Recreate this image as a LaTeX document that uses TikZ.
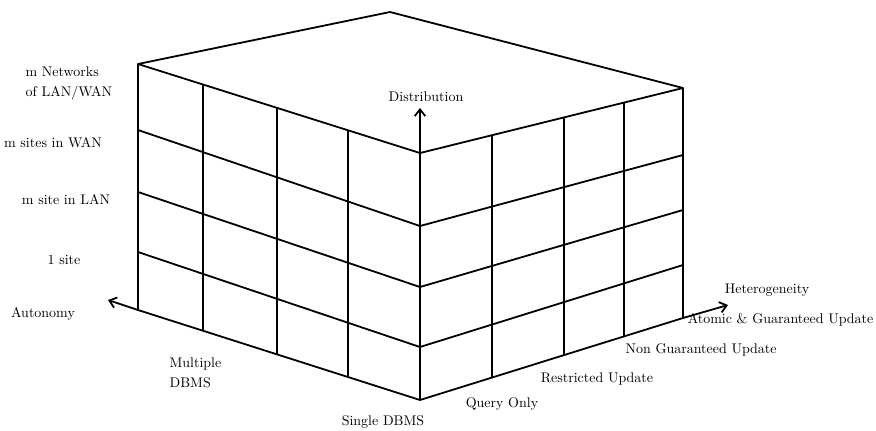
\documentclass[tikz,border=0pt]{standalone}
\usepackage{tikz}
\usetikzlibrary{arrows.meta, positioning, calc}

\tikzset{
  grid/.style={line width=1.35pt, line join=round},
  axislbl/.style={inner sep=1pt},
  twolines/.style={inner sep=1pt, align=left, font=\fontsize{10.5}{15}\selectfont}
}

\begin{document}
\begin{tikzpicture}[x=0.75pt, y=-0.75pt, >={Straight Barb[length=5pt, width=8pt]}, font=\fontsize{10.5}{13}\selectfont]
  \useasboundingbox (0,0) rectangle (876,430);

  % corners of the block
  \coordinate (tl) at (138,64);
  \coordinate (back) at (390,12);
  \coordinate (tr) at (683,88);
  \coordinate (ft) at (420,153);
  \coordinate (bl) at (138,310);
  \coordinate (fb) at (420,400);
  \coordinate (br) at (683,318);

  % outline
  \draw[grid] (tl) -- (back) -- (tr) -- (ft) -- cycle;
  \draw[grid] (tl) -- (bl) -- (fb) -- (br) -- (tr);
  \draw[grid] (ft) -- (fb);

  % rows, left face and right face
  \foreach \ya/\yb/\yc in {130/226/155, 192/287/210, 252/347/265} {
    \draw[grid] (138,\ya) -- (420,\yb) -- (683,\yc);
  }

  % columns, left face
  \foreach \t in {0.23, 0.493, 0.745} {
    \draw[grid] ($(tl)!\t!(ft)$) -- ($(bl)!\t!(fb)$);
  }
  % columns, right face
  \foreach \t in {0.274, 0.548, 0.776} {
    \draw[grid] ($(ft)!\t!(tr)$) -- ($(fb)!\t!(br)$);
  }

  % axes
  \coordinate (disttip) at (420,108);
  \coordinate (autotip) at (108,300);
  \coordinate (heteotip) at (728,305);
  \draw[grid, ->] (ft) -- (disttip);
  \draw[grid, ->] (bl) -- (autotip);
  \draw[grid, ->] (br) -- (heteotip);

  \node[axislbl] (distlbl) at (426,97) {Distribution};
  \node[axislbl] (autolbl) at (43,314) {Autonomy};
  \node[axislbl] (heterolbl) at (767,290) {Heterogeneity};

  % distribution levels
  \node[twolines, anchor=west] (netlbl) at (24,83) {m Networks\\of LAN/WAN};
  \node[axislbl] (wanlbl) at (53,143) {m sites in WAN};
  \node[axislbl] (lanlbl) at (66,200) {m site in LAN};
  \node[axislbl] (sitelbl) at (64,260) {1 site};

  % autonomy levels
  \node[twolines, anchor=west] (multilbl) at (168,373) {Multiple\\DBMS};
  \node[axislbl] (singlelbl) at (383,422) {Single DBMS};

  % heterogeneity levels
  \node[axislbl] (querylbl) at (502,404) {Query Only};
  \node[axislbl] (restrlbl) at (597,379) {Restricted Update};
  \node[axislbl, anchor=west] (nonglbl) at (624,350) {Non Guaranteed Update};
  \node[axislbl, anchor=east] (atomlbl) at (875,320) {Atomic \& Guaranteed Update};
\end{tikzpicture}
\end{document}
